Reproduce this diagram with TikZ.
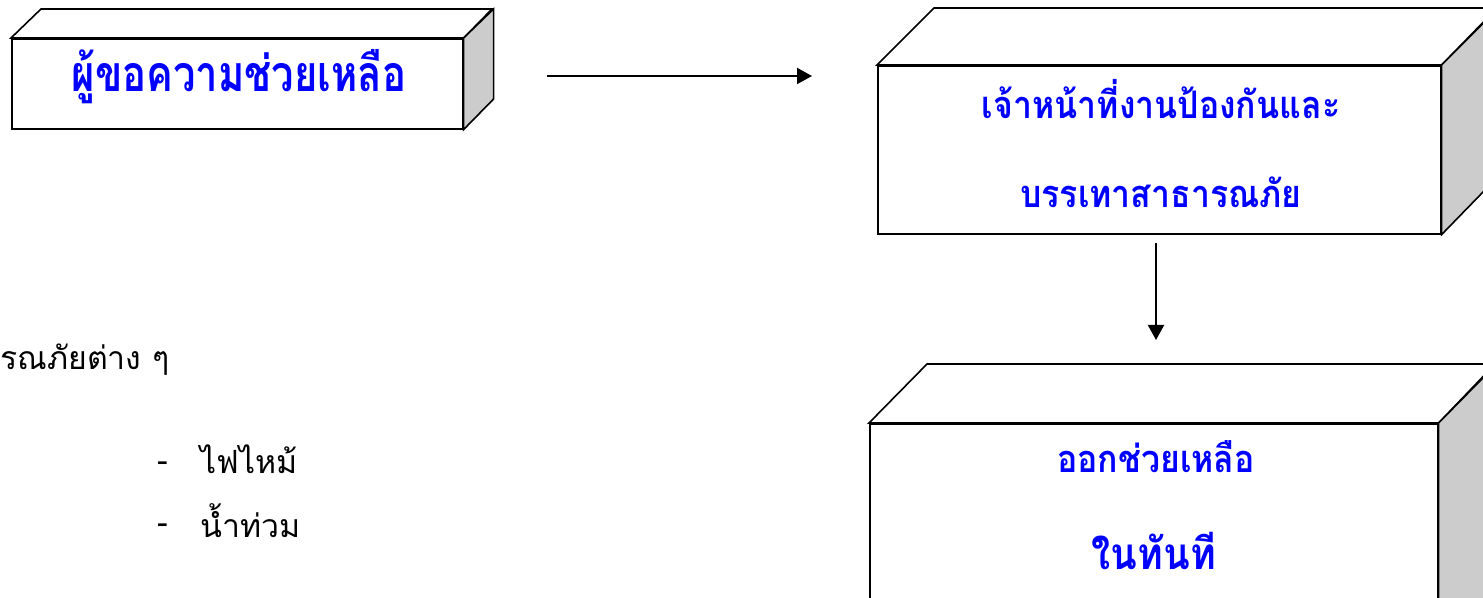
\documentclass[tikz,border=0pt]{standalone}
\usepackage{fontspec}
\newfontfamily\thaifont[Script=Thai]{Loma}
\newfontfamily\thaiA[Script=Thai, FakeStretch=0.8]{Loma}
\newfontfamily\thaiB[Script=Thai, FakeStretch=0.89]{Loma}
\usetikzlibrary{arrows.meta}
\definecolor{sidegray}{HTML}{CCCCCC}
\definecolor{txtblue}{HTML}{0000FF}
\tikzset{
  front/.style={draw=black, line width=0.8pt, fill=white, inner sep=0pt, anchor=north west},
  face/.style={draw=black, line width=0.8pt, line join=miter},
  boxtext/.style={text=txtblue, inner sep=0pt},
  plaintext/.style={font=\thaifont\fontsize{16}{19}\selectfont, text=black, inner sep=0pt, anchor=west},
  conn/.style={line width=1pt, -{Triangle[length=7.5pt,width=8pt]}}
}
\begin{document}
\begin{tikzpicture}[x=0.5pt,y=-0.5pt]
\useasboundingbox (0,0) rectangle (1483,598);
\begin{scope}
\clip (0,0) rectangle (1483,598);
% Box 1
\node[front, minimum width=225.5pt, minimum height=45pt] (b1) at (11,38) {};
\draw[face, fill=white] (b1.north west) -- ++(30,-29) -- ++(451,0) -- (b1.north east) -- cycle;
\draw[face, fill=sidegray] (b1.north east) -- ++(30,-29) -- ++(0,90) -- (b1.south east) -- cycle;
\node[boxtext, font=\thaiA\bfseries\fontsize{25}{28}\selectfont] (t1) at (239,77) {ผู้ขอความช่วยเหลือ};
% Box 2
\node[front, minimum width=281.5pt, minimum height=84pt] (b2) at (877,65) {};
\draw[face, fill=white] (b2.north west) -- ++(57,-57) -- ++(563,0) -- (b2.north east) -- cycle;
\draw[face, fill=sidegray] (b2.north east) -- ++(57,-57) -- ++(0,168) -- (b2.south east) -- cycle;
\node[boxtext, font=\thaiB\bfseries\fontsize{19}{22}\selectfont] (t2a) at (1161,99) {เจ้าหน้าที่งานป้องกันและ};
\node[boxtext, font=\thaiB\bfseries\fontsize{19}{22}\selectfont] (t2b) at (1161,192) {บรรเทาสาธารณภัย};
% Box 3
\node[front, minimum width=284pt, minimum height=120pt] (b3) at (869,423) {};
\draw[face, fill=white] (b3.north west) -- ++(58,-59) -- ++(568,0) -- (b3.north east) -- cycle;
\draw[face, fill=sidegray] (b3.north east) -- ++(58,-59) -- ++(0,240) -- (b3.south east) -- cycle;
\node[boxtext, font=\thaiB\bfseries\fontsize{19}{22}\selectfont] (t3a) at (1156,457) {ออกช่วยเหลือ};
\node[boxtext, font=\thaiB\bfseries\fontsize{22}{26}\selectfont] (t3b) at (1154,551) {ในทันที};
% connectors
\coordinate (a1s) at (547,76);
\coordinate (a1e) at (812,76);
\draw[conn] (a1s) -- (a1e);
\coordinate (a2s) at (1156,243);
\coordinate (a2e) at (1156,340);
\draw[conn] (a2s) -- (a2e);
% left texts
\node[plaintext] (l1) at (0,360) {รณภัยต่าง ๆ};
\node[plaintext] (d1) at (157,467) {-};
\node[plaintext] (l2) at (200,459) {ไฟไหม้};
\node[plaintext] (d2) at (157,529) {-};
\node[plaintext] (l3) at (200,521) {น้ำท่วม};
\end{scope}
\end{tikzpicture}
\end{document}
